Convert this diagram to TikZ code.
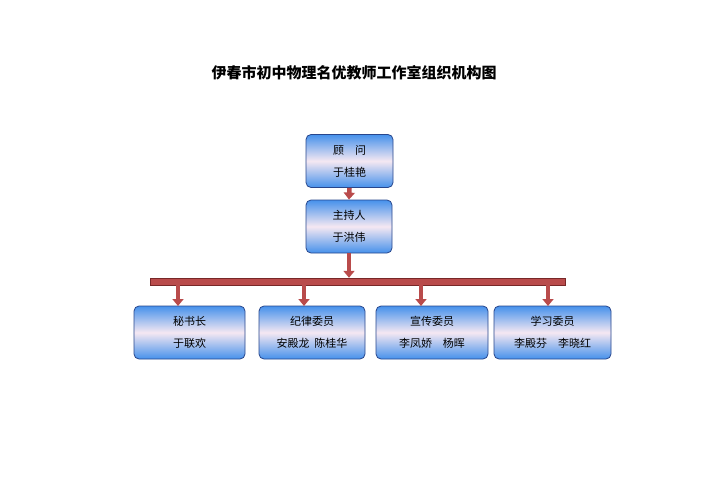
\documentclass[tikz,border=0pt]{standalone}
\usepackage{fontspec}
\setmainfont{Noto Sans CJK SC}
\usetikzlibrary{arrows.meta}
\definecolor{bx}{RGB}{70,145,235}
\definecolor{bmid}{RGB}{245,232,242}
\definecolor{bd}{RGB}{40,70,140}
\definecolor{rd}{RGB}{185,75,75}
\definecolor{rdd}{RGB}{120,40,40}
\begin{document}
\begin{tikzpicture}[x=1pt,y=-1pt,
  box/.style={draw=bd,line width=0.8pt,rounded corners=5pt,top color=bx,bottom color=bx,middle color=bmid,
    minimum height=53pt,align=center,font=\fontsize{11}{22}\selectfont,inner sep=0pt},
  arr/.style={draw=rd,line width=4.5pt,-{Triangle[width=11pt,length=7pt]},shorten >=0pt}]
\useasboundingbox (0,0) rectangle (708,500);
\node[font=\fontsize{15}{18}\selectfont\bfseries] (title) at (354,73) {伊春市初中物理名优教师工作室组织机构图};
\node[box,minimum width=87pt] (gw) at (349.5,161) {顾\quad 问\\于桂艳};
\node[box,minimum width=86pt] (zc) at (349,226.5) {主持人\\于洪伟};
\node[draw=rdd,fill=rd,minimum width=415pt,minimum height=7pt,inner sep=0pt] (bar) at (357.5,281.5) {};
\node[box,minimum width=111pt] (b1) at (189.5,332.5) {秘书长\\于联欢};
\node[box,minimum width=106pt] (b2) at (312,332.5) {纪律委员\\安殿龙\ \ 陈桂华};
\node[box,minimum width=112pt] (b3) at (432,332.5) {宣传委员\\李凤娇\quad 杨晖};
\node[box,minimum width=117pt] (b4) at (552.5,332.5) {学习委员\\李殿芬\quad 李晓红};
\draw[arr] (gw.south) -- (zc.north);
\draw[arr] (zc.south) -- (zc.south |- bar.north);
\foreach \n/\x in {b1/178,b2/304,b3/421,b4/548}
  \draw[arr] (\x,285) -- (\x,306);
\end{tikzpicture}
\end{document}
